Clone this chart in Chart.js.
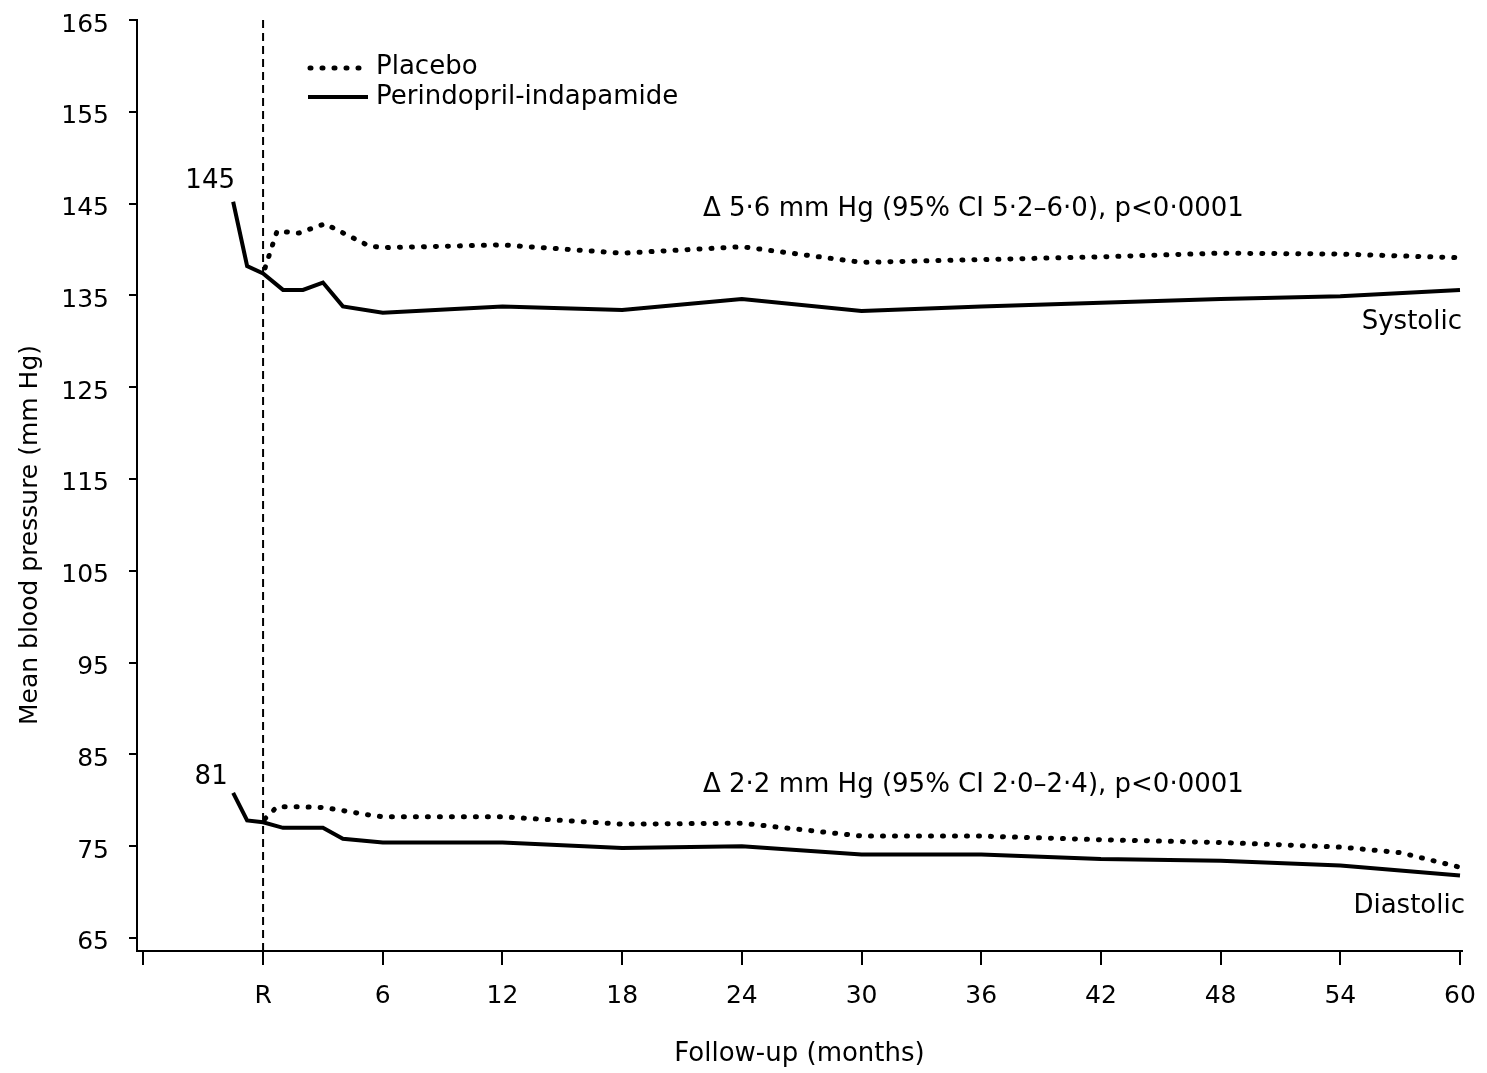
<!DOCTYPE html>
<html>
<head>
<meta charset="utf-8">
<script src="https://cdn.jsdelivr.net/npm/chart.js@4"></script>
<style>
  html, body { margin: 0; padding: 0; background: #fff; }
  #wrap { width: 1487px; height: 1073px; }
</style>
</head>
<body>
<div id="wrap"><canvas id="bpChart" width="1487" height="1073"></canvas></div>
<script>
// months from randomisation (R = 0)
const sysMonthsPI = [-1.5, -0.8, 0, 1, 2, 3, 4, 6, 12, 18, 24, 30, 36, 42, 48, 54, 60];
const sysPI = [145.2, 138.2, 137.4, 135.6, 135.6, 136.4, 133.8, 133.1, 133.8, 133.4, 134.6, 133.3, 133.8, 134.2, 134.6, 134.9, 135.6];
const sysMonthsPl = [0.1, 0.7, 1.8, 3.1, 5.3, 6, 12, 18, 24, 30, 36, 42, 48, 54, 60];
const sysPl = [138.0, 142.0, 141.8, 142.8, 140.4, 140.2, 140.5, 139.6, 140.3, 138.6, 138.9, 139.2, 139.6, 139.5, 139.1];

const diaMonthsPI = [-1.5, -0.8, 0, 1, 3, 4, 6, 12, 18, 24, 30, 36, 42, 48, 54, 60];
const diaPI = [80.8, 77.8, 77.6, 77.0, 77.0, 75.8, 75.4, 75.4, 74.8, 75.0, 74.1, 74.1, 73.6, 73.4, 72.9, 71.8];
const diaMonthsPl = [0.1, 0.7, 1.8, 3.1, 5.3, 6, 12, 18, 24, 30, 36, 42, 48, 54, 57, 60];
const diaPl = [78.0, 79.3, 79.3, 79.2, 78.4, 78.2, 78.2, 77.4, 77.5, 76.1, 76.1, 75.7, 75.4, 74.9, 74.3, 72.7];

const xTicks = [-6, 0, 6, 12, 18, 24, 30, 36, 42, 48, 54, 60];
const yTicks = [65, 75, 85, 95, 105, 115, 125, 135, 145, 155, 165];

const FONT = 'DejaVu Sans';
const toPts = (xs, ys) => xs.map((x, i) => ({ x: x, y: ys[i] }));

const dotted = { borderColor: '#000', borderWidth: 5, borderDash: [1, 11], borderCapStyle: 'round' };
const solid = { borderColor: '#000', borderWidth: 4, borderCapStyle: 'butt' };

// dashed R line, legend and text notes
const notes = {
    id: 'notes',
    afterDatasetsDraw(chart) {
        const { ctx, chartArea, scales } = chart;
        const x = scales.x, y = scales.y;
        ctx.save();
        // randomisation line
        ctx.strokeStyle = '#000';
        ctx.lineWidth = 2;
        ctx.setLineDash([8, 5]);
        ctx.beginPath();
        ctx.moveTo(x.getPixelForValue(0), chartArea.top);
        ctx.lineTo(x.getPixelForValue(0), chartArea.bottom);
        ctx.stroke();
        ctx.setLineDash([]);

        // legend
        ctx.lineWidth = 5;
        ctx.lineCap = 'round';
        ctx.setLineDash([1, 11]);
        ctx.beginPath(); ctx.moveTo(310, 68); ctx.lineTo(368, 68); ctx.stroke();
        ctx.setLineDash([]);
        ctx.lineCap = 'butt';
        ctx.lineWidth = 4;
        ctx.beginPath(); ctx.moveTo(308, 97); ctx.lineTo(368, 97); ctx.stroke();

        ctx.fillStyle = '#000';
        ctx.font = '26px "' + FONT + '"';
        ctx.textBaseline = 'middle';
        ctx.textAlign = 'left';
        ctx.fillText('Placebo', 376, 67);
        ctx.fillText('Perindopril-indapamide', 376, 97);

        ctx.fillText('\u0394 5\u00b76 mm Hg (95% CI 5\u00b72\u20136\u00b70), p<0\u00b70001', 703, 209);
        ctx.fillText('\u0394 2\u00b72 mm Hg (95% CI 2\u00b70\u20132\u00b74), p<0\u00b70001', 703, 785);

        ctx.textAlign = 'right';
        ctx.fillText('Systolic', 1462, 322);
        ctx.fillText('Diastolic', 1465, 906);

        ctx.textAlign = 'center';
        ctx.fillText('145', x.getPixelForValue(sysMonthsPI[0]) - 23, y.getPixelForValue(sysPI[0]) - 21);
        ctx.fillText('81', x.getPixelForValue(diaMonthsPI[0]) - 22, y.getPixelForValue(diaPI[0]) - 16);

        // y axis title
        ctx.translate(30, 535);
        ctx.rotate(-Math.PI / 2);
        ctx.font = '25px "' + FONT + '"';
        ctx.fillText('Mean blood pressure (mm Hg)', 0, 0);
        ctx.restore();
    }
};

const ctx = document.getElementById('bpChart').getContext('2d');
const bpChart = new Chart(ctx, {
    type: 'line',
    data: {
        datasets: [
            { label: 'Placebo (systolic)', data: toPts(sysMonthsPl, sysPl), ...dotted },
            { label: 'Perindopril-indapamide (systolic)', data: toPts(sysMonthsPI, sysPI), ...solid },
            { label: 'Placebo (diastolic)', data: toPts(diaMonthsPl, diaPl), ...dotted },
            { label: 'Perindopril-indapamide (diastolic)', data: toPts(diaMonthsPI, diaPI), ...solid }
        ]
    },
    options: {
        responsive: false,
        animation: false,
        tension: 0,
        layout: { padding: { top: 20, right: 25, left: 0, bottom: 0 } },
        plugins: { legend: { display: false }, tooltip: { enabled: false } },
        elements: { point: { radius: 0 }, line: { fill: false } },
        scales: {
            x: {
                type: 'linear',
                min: -6.32,
                max: 60.1,
                afterFit: (s) => { s.height = 122; s.paddingLeft = 0; s.paddingRight = 0; },
                afterBuildTicks: (s) => { s.ticks = xTicks.map(v => ({ value: v })); },
                border: { display: true, color: '#000', width: 2 },
                grid: { drawOnChartArea: false, color: '#000', lineWidth: 2, tickLength: 14 },
                ticks: {
                    color: '#000',
                    padding: 16,
                    maxRotation: 0,
                    autoSkip: false,
                    font: { family: FONT, size: 25 },
                    callback: (v) => v === -6 ? '' : (v === 0 ? 'R' : String(v))
                },
                title: {
                    display: true,
                    text: 'Follow-up (months)',
                    color: '#000',
                    font: { family: FONT, size: 26 },
                    padding: { top: 0, bottom: 3 }
                }
            },
            y: {
                type: 'linear',
                min: 63.58,
                max: 165,
                afterFit: (s) => { s.width = 137; s.paddingTop = 0; s.paddingBottom = 0; },
                afterBuildTicks: (s) => { s.ticks = yTicks.map(v => ({ value: v })); },
                border: { display: true, color: '#000', width: 2 },
                grid: { drawOnChartArea: false, color: '#000', lineWidth: 2, tickLength: 8 },
                ticks: {
                    color: '#000',
                    padding: 20,
                    labelOffset: 5,
                    autoSkip: false,
                    font: { family: FONT, size: 25 }
                }
            }
        }
    },
    plugins: [notes]
});
</script>
</body>
</html>
